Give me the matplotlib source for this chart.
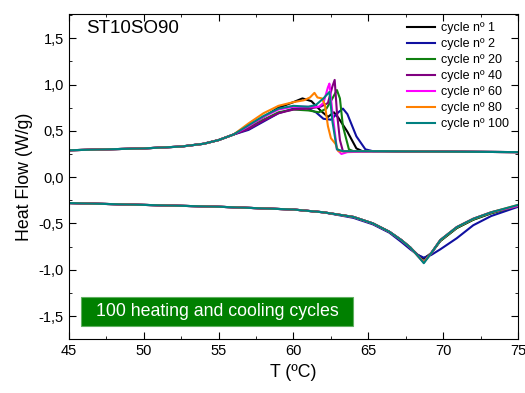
import matplotlib
matplotlib.use("Agg")
import matplotlib.pyplot as plt
from matplotlib.ticker import MultipleLocator, FuncFormatter
from matplotlib.patches import Rectangle

plt.rcParams['font.family'] = ['Liberation Sans', 'DejaVu Sans']

# --- DATA ---
labels = ['cycle nº 1', 'cycle nº 2', 'cycle nº 20', 'cycle nº 40',
          'cycle nº 60', 'cycle nº 80', 'cycle nº 100']
colors = ['black', '#1010a0', '#108010', '#800080', '#ff00ff', '#ff8000', '#008080']

# upper (crystallisation) curves: shared start, per-cycle peak region, shared tail
up_start_T = [45, 47.5, 50, 52.5, 54, 55, 56]
up_start_V = [0.29, 0.30, 0.31, 0.33, 0.36, 0.40, 0.46]
up_tail_T = [66, 70, 75]
up_tail_V = [0.28, 0.275, 0.27]

peak_T = [
    [57, 58, 59, 60, 60.6, 61.2, 61.8, 62.3, 62.7, 63.0, 63.6, 64.2, 64.6, 65.5],
    [57, 58, 59, 60, 60.8, 61.5, 62.0, 62.5, 63.0, 63.3, 63.6, 64.2, 64.8, 65.3],
    [57, 58, 59, 60, 61, 61.7, 62.2, 62.6, 62.9, 63.1, 63.3, 63.7, 64.0],
    [57, 58, 59, 60, 61, 61.8, 62.3, 62.6, 62.75, 62.9, 63.1, 63.3],
    [57, 58, 59, 60, 61, 61.7, 62.0, 62.3, 62.4, 62.6, 62.9, 63.2, 63.6],
    [57, 58, 59, 60, 60.7, 61.1, 61.4, 61.6, 61.9, 62.1, 62.3, 62.5, 62.8, 63.0, 63.5],
    [57, 58, 59, 60, 61, 61.5, 62.0, 62.4, 62.6, 62.9, 63.3],
]
peak_V = [
    [0.55, 0.65, 0.75, 0.81, 0.85, 0.82, 0.72, 0.65, 0.70, 0.64, 0.49, 0.31, 0.28, 0.28],
    [0.51, 0.60, 0.69, 0.74, 0.75, 0.70, 0.63, 0.62, 0.70, 0.74, 0.68, 0.44, 0.30, 0.28],
    [0.53, 0.62, 0.70, 0.73, 0.72, 0.70, 0.74, 0.85, 0.94, 0.85, 0.55, 0.30, 0.28],
    [0.52, 0.61, 0.69, 0.73, 0.74, 0.76, 0.80, 0.98, 1.05, 0.70, 0.40, 0.28],
    [0.55, 0.65, 0.73, 0.76, 0.76, 0.76, 0.80, 0.97, 1.01, 0.70, 0.30, 0.25, 0.27],
    [0.58, 0.69, 0.77, 0.81, 0.83, 0.86, 0.91, 0.86, 0.85, 0.78, 0.55, 0.42, 0.36, 0.28, 0.28],
    [0.56, 0.66, 0.74, 0.77, 0.76, 0.78, 0.85, 0.92, 0.60, 0.30, 0.28],
]

# lower (melting) curves
low_T = [45, 50, 55, 60, 62, 64, 65.3, 66.4, 67.2, 67.8, 68.3, 68.7, 69.2, 69.8, 70.9, 72, 73.2, 75]
low_V = [
    [-0.28, -0.30, -0.32, -0.35, -0.38, -0.43, -0.50, -0.59, -0.68, -0.76, -0.84, -0.88, -0.82, -0.69, -0.55, -0.46, -0.39, -0.31],
    [-0.28, -0.30, -0.32, -0.35, -0.38, -0.44, -0.51, -0.60, -0.70, -0.78, -0.84, -0.87, -0.84, -0.78, -0.66, -0.52, -0.42, -0.32],
    [-0.28, -0.30, -0.32, -0.35, -0.38, -0.43, -0.50, -0.59, -0.68, -0.76, -0.85, -0.91, -0.82, -0.69, -0.55, -0.46, -0.39, -0.31],
    [-0.28, -0.30, -0.32, -0.35, -0.38, -0.43, -0.50, -0.59, -0.68, -0.76, -0.85, -0.92, -0.82, -0.68, -0.54, -0.45, -0.38, -0.31],
    [-0.28, -0.30, -0.32, -0.35, -0.38, -0.43, -0.50, -0.59, -0.68, -0.76, -0.85, -0.92, -0.82, -0.68, -0.54, -0.45, -0.38, -0.31],
    [-0.28, -0.30, -0.32, -0.35, -0.38, -0.43, -0.50, -0.59, -0.68, -0.76, -0.85, -0.92, -0.82, -0.68, -0.54, -0.45, -0.38, -0.30],
    [-0.28, -0.30, -0.32, -0.35, -0.38, -0.43, -0.50, -0.59, -0.68, -0.76, -0.85, -0.93, -0.82, -0.68, -0.54, -0.45, -0.38, -0.30],
]

# --- PLOTTING ---
fig = plt.figure(figsize=(5.25, 3.93), dpi=100)
ax = fig.add_axes([0.131, 0.137, 0.856, 0.827])

for i in range(len(labels)):
    T = up_start_T + peak_T[i] + up_tail_T
    V = up_start_V + peak_V[i] + up_tail_V
    ax.plot(T, V, color=colors[i], lw=1.5, label=labels[i])
    ax.plot(low_T, low_V[i], color=colors[i], lw=1.5)

ax.set_xlim(45, 75)
ax.set_ylim(-1.75, 1.76)
ax.xaxis.set_major_locator(MultipleLocator(5))
ax.xaxis.set_minor_locator(MultipleLocator(2.5))
ax.yaxis.set_major_locator(MultipleLocator(0.5))
ax.yaxis.set_minor_locator(MultipleLocator(0.25))
ax.yaxis.set_major_formatter(FuncFormatter(lambda v, p: f'{v:.1f}'.replace('.', ',')))
ax.tick_params(which='both', direction='in', top=True, right=True, labelsize=10.5)
ax.tick_params(which='major', length=5)
ax.tick_params(which='minor', length=2.5)

ax.set_xlabel('T (ºC)', fontsize=12.8)
ax.set_ylabel('Heat Flow (W/g)', fontsize=12.8)

ax.text(0.038, 0.955, 'ST10SO90', transform=ax.transAxes, fontsize=13.5, va='center')

ax.legend(loc='upper left', bbox_to_anchor=(0.752, 0.975), frameon=False,
          fontsize=9, handlelength=2.3, labelspacing=0.32, handletextpad=0.45,
          borderpad=0, borderaxespad=0)

ax.add_patch(Rectangle((0.028, 0.041), 0.604, 0.089, transform=ax.transAxes,
                       facecolor='#008000', edgecolor='#60b060', lw=0.8, zorder=5))
ax.text(0.33, 0.0855, '100 heating and cooling cycles', transform=ax.transAxes,
        color='white', fontsize=12.8, ha='center', va='center', zorder=6)

fig.savefig('out.png', dpi=100)
